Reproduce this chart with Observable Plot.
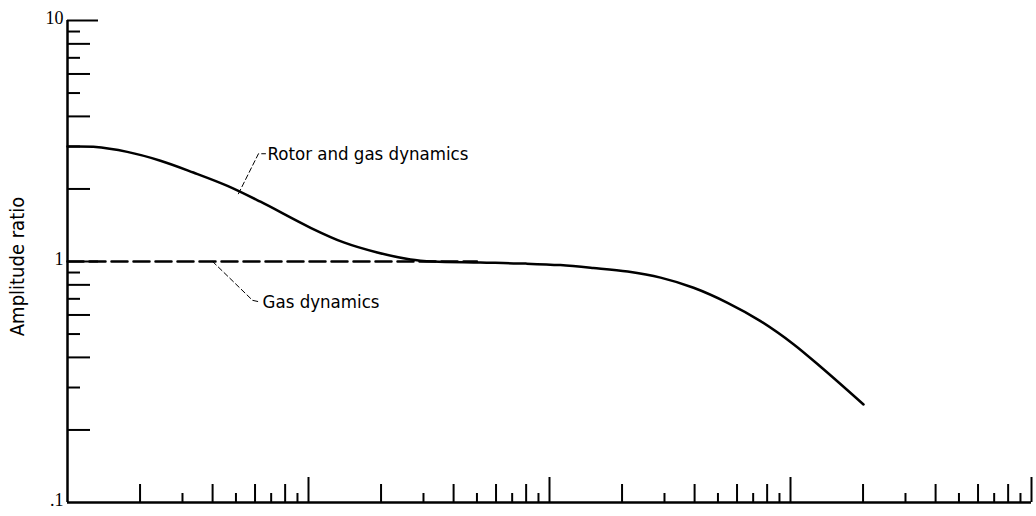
<!DOCTYPE html>
<html>
<head>
<meta charset="utf-8">
<script src="https://cdn.jsdelivr.net/npm/d3@7"></script>
<script src="https://cdn.jsdelivr.net/npm/@observablehq/plot@0.6"></script>
<style>
  body { margin: 0; background: #fff; }
</style>
</head>
<body>
<div id="chart"></div>
<script>
// Frequency (log axis, no labels) and amplitude ratio
const freq = [1, 1.28, 1.77, 2.43, 3.33, 4.61, 6.32, 10.2, 14, 19.3, 26.5, 33, 51.7, 80, 111, 152, 211, 289, 396, 548, 751, 1029, 1371, 2009];
const rotorGas = [3.0, 2.99, 2.85, 2.62, 2.34, 2.06, 1.77, 1.38, 1.2, 1.09, 1.02, 1.0, 0.99, 0.98, 0.966, 0.94, 0.908, 0.857, 0.778, 0.674, 0.566, 0.454, 0.357, 0.255];
const gasFreq = [1, 50];
const gasOnly = [1, 1];

// Tick positions
const xMajor = [10, 100, 1000, 10000];
const xEven = [2, 4, 6, 8, 20, 40, 60, 80, 200, 400, 600, 800, 2000, 4000, 6000, 8000];
const xOdd = [3, 5, 7, 9, 30, 50, 70, 90, 300, 500, 700, 900, 3000, 5000, 7000, 9000];
const yMajor = [1, 10];
const yEven = [0.2, 0.4, 0.6, 0.8, 2, 4, 6, 8];
const yOdd = [0.3, 0.5, 0.7, 0.9, 3, 5, 7, 9];
const yLabelValues = [0.1, 1, 10];
const yLabelText = [".1", "1", "10"];

// Annotations (leader lines in data units, then label)
const rotorLeaderX = [5.12, 6.2, 6.63];
const rotorLeaderY = [1.91, 2.8, 2.8];
const gasLeaderX = [4.0, 5.86, 6.26];
const gasLeaderY = [1.0, 0.69, 0.68];
const labelText = ["Rotor and gas dynamics", "Gas dynamics"];
const labelX = [6.76, 6.45];
const labelY = [2.78, 0.68];

const sans = "'Liberation Sans Narrow', 'DejaVu Sans Condensed', 'DejaVu Sans', sans-serif";
const serif = "'Liberation Serif', 'DejaVu Serif', serif";

const curve = freq.map((f, i) => ({f, a: rotorGas[i]}));
const gas = gasFreq.map((f, i) => ({f, a: gasOnly[i]}));
const rotorLeader = rotorLeaderX.map((f, i) => ({f, a: rotorLeaderY[i]}));
const gasLeader = gasLeaderX.map((f, i) => ({f, a: gasLeaderY[i]}));
const labels = labelText.map((t, i) => ({t, f: labelX[i], a: labelY[i]}));
const yLabels = yLabelValues.map((v, i) => ({v, t: yLabelText[i]}));

const tickX = (ticks, len) => Plot.axisX({ticks, tickSize: len, dy: -len, tickFormat: () => "", label: null, strokeWidth: 2});
const tickY = (ticks, len) => Plot.axisY({ticks, tickSize: len, dx: len, tickFormat: () => "", label: null, strokeWidth: 2});

const chart = Plot.plot({
  width: 1036,
  height: 516,
  marginLeft: 67,
  marginRight: 5,
  marginTop: 20,
  marginBottom: 14,
  x: {type: "log", domain: [1, 10000]},
  y: {type: "log", domain: [0.1, 10]},
  style: {background: "#fff", color: "#000"},
  marks: [
    tickX(xMajor, 25),
    tickX(xEven, 18),
    tickX(xOdd, 9),
    tickY(yMajor, 31),
    tickY(yEven, 23),
    tickY(yOdd, 13),
    Plot.text(yLabels, {y: "v", text: "t", frameAnchor: "left", textAnchor: "end", dx: -4, dy: -2, fontSize: 18, fontFamily: serif, fill: "#000"}),
    Plot.ruleX([1], {strokeWidth: 2.5}),
    Plot.ruleY([0.1], {strokeWidth: 2.5}),
    Plot.line(gas, {x: "f", y: "a", stroke: "#000", strokeWidth: 2.5, strokeDasharray: "16,6"}),
    Plot.line(curve, {x: "f", y: "a", stroke: "#000", strokeWidth: 2.5, curve: "catmull-rom"}),
    Plot.line(rotorLeader, {x: "f", y: "a", stroke: "#000", strokeWidth: 1, strokeDasharray: "5,3"}),
    Plot.line(gasLeader, {x: "f", y: "a", stroke: "#000", strokeWidth: 1, strokeDasharray: "5,3"}),
    Plot.text(labels, {x: "f", y: "a", text: "t", textAnchor: "start", fontSize: 18.5, fontFamily: sans, fill: "#000"}),
    Plot.text(["Amplitude ratio"], {frameAnchor: "left", textAnchor: "middle", rotate: -90, dx: -50, dy: 5, fontSize: 20, fontFamily: sans, fill: "#000"})
  ]
});
document.getElementById("chart").append(chart);
</script>
</body>
</html>
